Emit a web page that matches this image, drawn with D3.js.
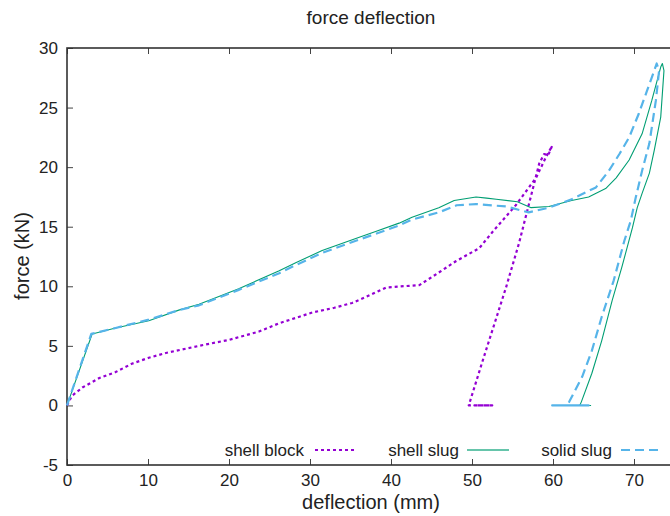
<!DOCTYPE html>
<html>
<head>
  <meta charset="utf-8">
  <script src="https://cdn.jsdelivr.net/npm/d3@7/dist/d3.min.js"></script>
  <style>
    body { margin: 0; background: #fff; }
    text { font-family: "Liberation Sans", Arial, sans-serif; fill: #222; }
  </style>
</head>
<body>
  <script>
    var width = 670, height = 516;

    // deflection (mm), force (kN)
    var shellBlock = [
      [0, 0], [0.6, 0.8], [1.9, 1.5], [4.0, 2.3], [6.0, 2.8], [8.0, 3.5], [10.1, 4.0],
      [12.2, 4.4], [16.3, 5.0], [20, 5.5], [23.7, 6.2], [26.2, 6.9], [30.3, 7.8], [33, 8.2],
      [35.2, 8.6], [36.9, 9.1], [39.4, 9.9], [43.5, 10.1], [45.1, 10.8], [46.0, 11.2],
      [48.0, 12.1], [50.9, 13.2], [52.7, 14.7], [55.4, 16.8], [57.9, 19.1], [59.1, 20.8],
      [59.9, 21.8], [59.4, 21.0], [58.9, 21.1], [58.3, 20.3], [55.8, 13.6], [54.2, 9.9],
      [51.2, 3.5], [49.6, 0], [52.5, 0], [50.3, 0], [52.3, 0], [50.5, 0]
    ];
    var shellSlug = [
      [0, 0], [3.1, 6.0], [6.0, 6.5], [10.1, 7.1], [13.8, 8.0], [16.3, 8.5], [21.2, 9.8],
      [26.2, 11.3], [28.3, 12.0], [31.5, 13.0], [36.0, 14.1], [38.1, 14.6], [41.0, 15.3],
      [42.6, 15.8], [45.9, 16.6], [47.8, 17.2], [50.5, 17.5], [51.8, 17.4], [53.0, 17.3],
      [55.6, 17.1], [57.3, 16.6], [59.5, 16.7], [62.3, 17.2], [64.4, 17.5], [66.5, 18.2],
      [67.8, 19.1], [69.4, 20.6], [71.0, 22.8], [72.2, 25.6], [73.3, 28.4], [73.5, 28.7],
      [73.7, 28.1], [73.3, 24.2], [72.5, 21.4], [71.9, 19.5], [71.0, 17.8], [70.4, 16.6],
      [69.8, 14.9], [68.5, 11.6], [67.3, 8.8], [66.0, 5.4], [64.8, 2.7], [63.5, 0.3],
      [63.3, 0], [60.0, 0], [64.7, 0]
    ];
    var solidSlug = [
      [0, 0], [3.0, 6.0], [6.0, 6.5], [10.1, 7.2], [13.8, 8.0], [16.3, 8.4], [21.2, 9.7],
      [26.2, 11.1], [28.3, 11.8], [31.5, 12.8], [36.0, 13.9], [38.1, 14.4], [41.0, 15.1],
      [42.6, 15.6], [45.9, 16.2], [48.1, 16.8], [50.5, 16.9], [54.2, 16.7], [57.0, 16.2],
      [59.5, 16.6], [62.3, 17.3], [65.3, 18.3], [66.9, 19.7], [68.2, 21.1], [69.4, 22.5],
      [70.6, 24.5], [71.6, 26.4], [72.5, 28.1], [72.8, 28.7], [73.1, 28.1], [72.7, 25.6],
      [71.9, 22.0], [71.0, 19.7], [70.2, 17.4], [69.6, 15.5], [68.8, 13.8], [67.5, 10.5],
      [66.0, 7.4], [64.8, 4.6], [63.6, 2.4], [62.0, 0.3], [61.7, 0], [59.8, 0], [64.4, 0],
      [59.9, 0], [64.2, 0]
    ];

    var series = [
      {name: "shell block", data: shellBlock, color: "#9400d3", width: 2.2, dash: "3,3"},
      {name: "shell slug", data: shellSlug, color: "#009e73", width: 1.1, dash: null},
      {name: "solid slug", data: solidSlug, color: "#56b4e9", width: 2.2, dash: "9,5"}
    ];

    var xTicks = [0, 10, 20, 30, 40, 50, 60, 70];
    var yTicks = [-5, 0, 5, 10, 15, 20, 25, 30];

    var plotLeft = 67, plotTop = 48, plotBottom = 465;

    var x = d3.scaleLinear().domain([0, 75]).range([plotLeft, plotLeft + 75 * 8.1]);
    var y = d3.scaleLinear().domain([-5, 30]).range([plotBottom, plotTop]);

    var svg = d3.select("body")
      .append("svg")
      .attr("width", width)
      .attr("height", height);

    var plotRight = x(75);

    // ticks (inward, mirrored)
    svg.append("g")
      .attr("transform", "translate(0," + plotBottom + ")")
      .call(d3.axisBottom(x).tickValues(xTicks).tickSize(-6).tickPadding(9).tickFormat(d => String(d)))
      .call(g => g.select(".domain").remove())
      .call(g => g.selectAll("line").attr("stroke", "#444"))
      .call(g => g.selectAll("text").style("font-size", "17px").attr("fill", "#222"));

    svg.append("g")
      .attr("transform", "translate(0," + plotTop + ")")
      .call(d3.axisTop(x).tickValues(xTicks).tickSize(-6).tickFormat(""))
      .call(g => g.select(".domain").remove())
      .call(g => g.selectAll("line").attr("stroke", "#444"));

    svg.append("g")
      .attr("transform", "translate(" + plotLeft + ",0)")
      .call(d3.axisLeft(y).tickValues(yTicks).tickSize(-6).tickPadding(9).tickFormat(d => String(d)))
      .call(g => g.select(".domain").remove())
      .call(g => g.selectAll("line").attr("stroke", "#444"))
      .call(g => g.selectAll("text").style("font-size", "17px").attr("fill", "#222"));

    // border
    svg.append("rect")
      .attr("x", plotLeft).attr("y", plotTop)
      .attr("width", plotRight - plotLeft).attr("height", plotBottom - plotTop)
      .attr("fill", "none")
      .attr("stroke", "#333")
      .attr("stroke-width", 1.6);

    var line = d3.line().x(d => x(d[0])).y(d => y(d[1]));

    svg.append("g")
      .selectAll("path")
      .data(series)
      .enter().append("path")
      .attr("d", d => line(d.data))
      .attr("fill", "none")
      .attr("stroke", d => d.color)
      .attr("stroke-width", d => d.width)
      .attr("stroke-dasharray", d => d.dash)
      .attr("stroke-linejoin", "round");

    // legend
    var legendPos = [{textEnd: 304, x1: 315, x2: 357}, {textEnd: 459, x1: 467, x2: 509}, {textEnd: 612, x1: 621, x2: 662}];
    var lg = svg.append("g");
    series.forEach(function (s, i) {
      var p = legendPos[i];
      lg.append("text")
        .attr("x", p.textEnd).attr("y", 456)
        .attr("text-anchor", "end")
        .style("font-size", "17px")
        .text(s.name);
      lg.append("line")
        .attr("x1", p.x1).attr("x2", p.x2)
        .attr("y1", 450).attr("y2", 450)
        .attr("stroke", s.color)
        .attr("stroke-width", s.name == "shell slug" ? 2 : s.width)
        .attr("stroke-opacity", s.name == "shell slug" ? 0.6 : 1)
        .attr("stroke-dasharray", s.dash);
    });

    svg.append("text")
      .attr("x", 371).attr("y", 24)
      .attr("text-anchor", "middle")
      .style("font-size", "19px")
      .text("force deflection");

    svg.append("text")
      .attr("x", 371).attr("y", 509)
      .attr("text-anchor", "middle")
      .style("font-size", "20px")
      .text("deflection (mm)");

    svg.append("text")
      .attr("transform", "translate(29,256) rotate(-90)")
      .attr("text-anchor", "middle")
      .style("font-size", "20px")
      .text("force (kN)");
  </script>
</body>
</html>
